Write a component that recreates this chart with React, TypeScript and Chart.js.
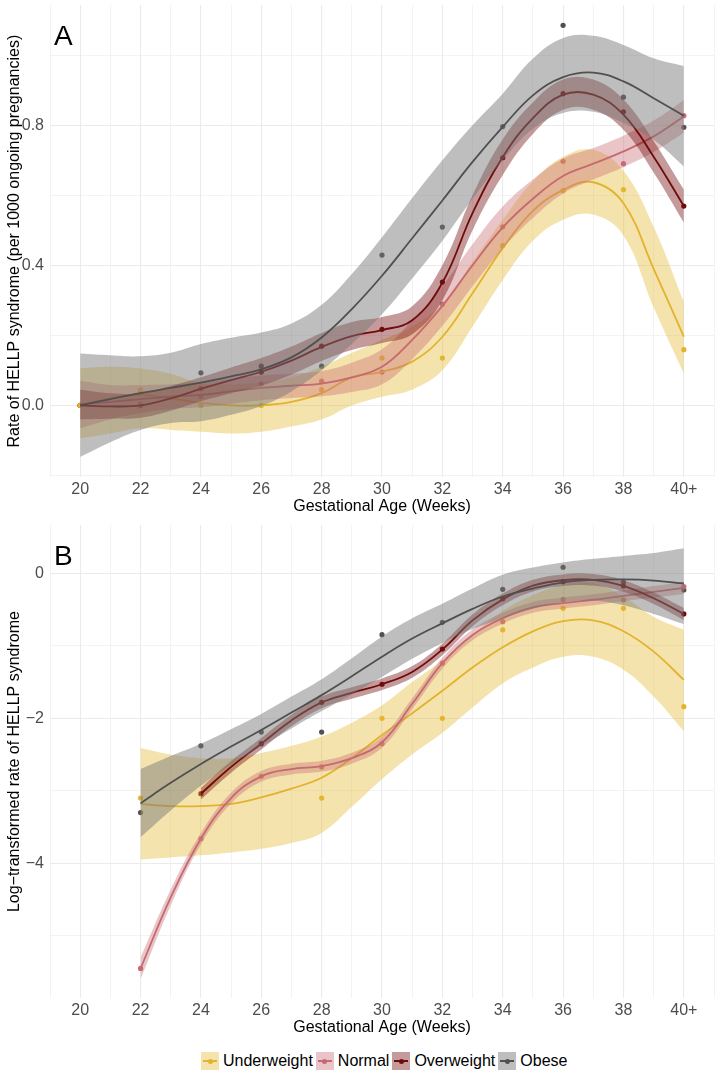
import React, { useEffect, useRef } from 'react';
import { Chart, registerables } from 'chart.js';

Chart.register(...registerables);
Chart.defaults.font.family = '"Liberation Sans", Arial, Helvetica, sans-serif';

// ---------- data ----------
const GROUPS = ['Underweight', 'Normal', 'Overweight', 'Obese'];
const FIT_WEEKS = [20, 21, 22, 23, 24, 25, 26, 27, 28, 29, 30, 31, 32, 33, 34, 35, 36, 37, 38, 39, 40];
const POINT_WEEKS = [20, 22, 24, 26, 28, 30, 32, 34, 36, 38, 40];
const X_TICK_LABELS = ['20', '22', '24', '26', '28', '30', '32', '34', '36', '38', '40+'];
const X_GRID = [19, 20, 21, 22, 23, 24, 25, 26, 27, 28, 29, 30, 31, 32, 33, 34, 35, 36, 37, 38, 39, 40, 41];

// Panel A: rate per 1000
const UW_A_FIT = [0.0, 0.02, 0.03, 0.02, 0.007, 0.0, 0.0, 0.01, 0.035, 0.08, 0.096, 0.125, 0.196, 0.32, 0.449, 0.555, 0.615, 0.637, 0.577, 0.39, 0.196];
const UW_A_HI = [0.106, 0.11, 0.105, 0.09, 0.063, 0.06, 0.065, 0.08, 0.11, 0.15, 0.187, 0.225, 0.29, 0.41, 0.53, 0.64, 0.71, 0.73, 0.67, 0.51, 0.296];
const UW_A_LO = [-0.094, -0.08, -0.066, -0.07, -0.075, -0.08, -0.075, -0.06, -0.04, 0.0, 0.025, 0.045, 0.1, 0.225, 0.358, 0.47, 0.53, 0.545, 0.485, 0.28, 0.091];
const N_A_FIT = [0.003, 0.01, 0.018, 0.025, 0.03, 0.04, 0.05, 0.056, 0.062, 0.08, 0.11, 0.187, 0.284, 0.4, 0.508, 0.59, 0.655, 0.69, 0.725, 0.768, 0.825];
const N_A_HI = [0.07, 0.058, 0.058, 0.06, 0.065, 0.075, 0.085, 0.09, 0.098, 0.122, 0.16, 0.242, 0.341, 0.46, 0.568, 0.645, 0.705, 0.735, 0.77, 0.813, 0.872];
const N_A_LO = [-0.065, -0.04, -0.022, -0.01, -0.005, 0.005, 0.015, 0.021, 0.026, 0.038, 0.06, 0.132, 0.227, 0.34, 0.448, 0.535, 0.605, 0.645, 0.68, 0.723, 0.778];
const OW_A_FIT = [0.0, -0.003, 0.0, 0.02, 0.047, 0.072, 0.096, 0.128, 0.167, 0.198, 0.215, 0.243, 0.35, 0.549, 0.709, 0.82, 0.887, 0.887, 0.83, 0.71, 0.569];
const OW_A_HI = [0.045, 0.035, 0.035, 0.055, 0.08, 0.108, 0.135, 0.168, 0.207, 0.238, 0.252, 0.283, 0.4, 0.6, 0.76, 0.865, 0.93, 0.93, 0.873, 0.755, 0.616];
const OW_A_LO = [-0.04, -0.038, -0.035, -0.015, 0.012, 0.035, 0.056, 0.088, 0.127, 0.158, 0.178, 0.203, 0.3, 0.5, 0.658, 0.775, 0.844, 0.844, 0.787, 0.665, 0.522];
const OB_A_FIT = [0.0, 0.018, 0.035, 0.05, 0.065, 0.083, 0.103, 0.137, 0.194, 0.275, 0.37, 0.477, 0.585, 0.695, 0.795, 0.885, 0.937, 0.95, 0.925, 0.877, 0.827];
const OB_A_HI = [0.148, 0.143, 0.14, 0.15, 0.175, 0.193, 0.208, 0.234, 0.287, 0.375, 0.48, 0.592, 0.7, 0.8, 0.89, 0.99, 1.049, 1.055, 1.029, 0.991, 0.969];
const OB_A_LO = [-0.147, -0.105, -0.07, -0.05, -0.045, -0.027, -0.002, 0.04, 0.1, 0.175, 0.26, 0.362, 0.47, 0.59, 0.7, 0.79, 0.835, 0.838, 0.806, 0.758, 0.682];

const UW_A_PTS = [0, 0.045, 0, 0, 0.045, 0.135, 0.135, 0.456, 0.613, 0.616, 0.159];
const N_A_PTS = [0, 0.004, 0.026, 0.061, 0.069, 0.095, 0.289, 0.51, 0.697, 0.69, 0.827];
const OW_A_PTS = [0, 0, 0.048, 0.095, 0.169, 0.217, 0.352, 0.707, 0.89, 0.838, 0.569];
const OB_A_PTS = [0, 0.037, 0.093, 0.112, 0.112, 0.429, 0.509, 0.796, 1.085, 0.88, 0.794];

// Panel B: log-transformed rate
const UW_B_FIT = [null, null, -3.18, -3.21, -3.21, -3.18, -3.09, -2.97, -2.82, -2.55, -2.23, -1.93, -1.62, -1.3, -1.02, -0.8, -0.66, -0.65, -0.8, -1.08, -1.47];
const UW_B_HI = [null, null, -2.41, -2.5, -2.55, -2.55, -2.48, -2.38, -2.25, -2.06, -1.82, -1.5, -1.2, -0.85, -0.52, -0.3, -0.16, -0.14, -0.32, -0.6, -0.78];
const UW_B_LO = [null, null, -3.95, -3.92, -3.89, -3.85, -3.8, -3.72, -3.58, -3.22, -2.84, -2.5, -2.2, -1.85, -1.52, -1.3, -1.15, -1.15, -1.33, -1.7, -2.18];
const N_B_FIT = [null, null, -5.45, -4.47, -3.66, -3.1, -2.8, -2.7, -2.66, -2.55, -2.33, -1.8, -1.24, -0.85, -0.62, -0.47, -0.41, -0.365, -0.31, -0.255, -0.2];
const N_B_HI = [null, null, -5.3, -4.36, -3.58, -3.025, -2.725, -2.625, -2.585, -2.475, -2.255, -1.725, -1.165, -0.775, -0.545, -0.395, -0.335, -0.29, -0.235, -0.175, -0.115];
const N_B_LO = [null, null, -5.6, -4.58, -3.74, -3.175, -2.875, -2.775, -2.735, -2.625, -2.405, -1.875, -1.315, -0.925, -0.695, -0.545, -0.485, -0.44, -0.385, -0.335, -0.285];
const OW_B_FIT = [null, null, null, null, -3.04, -2.67, -2.35, -2.03, -1.78, -1.65, -1.53, -1.36, -1.05, -0.65, -0.36, -0.17, -0.095, -0.09, -0.175, -0.345, -0.561];
const OW_B_HI = [null, null, null, null, -2.96, -2.59, -2.27, -1.95, -1.7, -1.57, -1.45, -1.28, -0.97, -0.57, -0.28, -0.09, -0.015, -0.01, -0.095, -0.265, -0.48];
const OW_B_LO = [null, null, null, null, -3.12, -2.75, -2.43, -2.11, -1.86, -1.73, -1.61, -1.44, -1.13, -0.73, -0.44, -0.25, -0.175, -0.17, -0.255, -0.425, -0.645];
const OB_B_FIT = [null, null, -3.17, -2.89, -2.63, -2.39, -2.16, -1.92, -1.68, -1.42, -1.15, -0.9, -0.69, -0.49, -0.32, -0.21, -0.125, -0.09, -0.085, -0.1, -0.14];
const OB_B_HI = [null, null, -2.7, -2.52, -2.35, -2.15, -1.94, -1.7, -1.46, -1.17, -0.87, -0.62, -0.42, -0.21, -0.02, 0.08, 0.15, 0.2, 0.24, 0.28, 0.345];
const OB_B_LO = [null, null, -3.64, -3.27, -2.93, -2.64, -2.39, -2.14, -1.9, -1.67, -1.43, -1.18, -0.96, -0.77, -0.62, -0.49, -0.4, -0.38, -0.44, -0.56, -0.7];

const UW_B_PTS = [null, -3.1, null, null, -3.1, -2.0, -2.0, -0.78, -0.483, -0.483, -1.84];
const N_B_PTS = [null, -5.45, -3.66, -2.8, -2.67, -2.35, -1.24, -0.667, -0.36, -0.368, -0.184];
const OW_B_PTS = [null, null, -3.04, -2.35, -1.78, -1.53, -1.044, -0.35, -0.115, -0.175, -0.561];
const OB_B_PTS = [null, -3.3, -2.38, -2.19, -2.19, -0.846, -0.676, -0.221, 0.083, -0.124, -0.23];

// axis ticks
const Y_A_MAJOR = [0, 0.4, 0.8];
const Y_A_LABELS = ['0.0', '0.4', '0.8'];
const Y_A_GRID = [-0.2, 0, 0.2, 0.4, 0.6, 0.8, 1.0];
const Y_B_MAJOR = [-4, -2, 0];
const Y_B_LABELS = ['\u22124', '\u22122', '0'];
const Y_B_GRID = [-5, -4, -3, -2, -1, 0];

// ---------- styles ----------
const LINE_COLORS = ['#E3B22E', '#C46A70', '#700B0B', '#505050'];
const BAND_COLORS = ['rgba(230,185,50,0.4)', 'rgba(200,110,115,0.4)', 'rgba(115,15,15,0.42)', 'rgba(120,120,120,0.48)'];
const FONT = '"Liberation Sans", Arial, Helvetica, sans-serif';

type Panel = {
  letter: string;
  yTitle: string;
  yMin: number;
  yMax: number;
  yGrid: number[];
  yMajor: number[];
  yLabels: string[];
  fits: (number | null)[][];
  his: (number | null)[][];
  los: (number | null)[][];
  pts: (number | null)[][];
};

const PANEL_A: Panel = {
  letter: 'A',
  yTitle: 'Rate of HELLP syndrome (per 1000 ongoing pregnancies)',
  yMin: -0.205,
  yMax: 1.143,
  yGrid: Y_A_GRID,
  yMajor: Y_A_MAJOR,
  yLabels: Y_A_LABELS,
  fits: [UW_A_FIT, N_A_FIT, OW_A_FIT, OB_A_FIT],
  his: [UW_A_HI, N_A_HI, OW_A_HI, OB_A_HI],
  los: [UW_A_LO, N_A_LO, OW_A_LO, OB_A_LO],
  pts: [UW_A_PTS, N_A_PTS, OW_A_PTS, OB_A_PTS],
};

const PANEL_B: Panel = {
  letter: 'B',
  yTitle: 'Log\u2212transformed rate of HELLP syndrome',
  yMin: -5.86,
  yMax: 0.666,
  yGrid: Y_B_GRID,
  yMajor: Y_B_MAJOR,
  yLabels: Y_B_LABELS,
  fits: [UW_B_FIT, N_B_FIT, OW_B_FIT, OB_B_FIT],
  his: [UW_B_HI, N_B_HI, OW_B_HI, OB_B_HI],
  los: [UW_B_LO, N_B_LO, OW_B_LO, OB_B_LO],
  pts: [UW_B_PTS, N_B_PTS, OW_B_PTS, OB_B_PTS],
};

function toXY(weeks: number[], vals: (number | null)[]) {
  const out: { x: number; y: number }[] = [];
  weeks.forEach((w, i) => {
    const v = vals[i];
    if (v !== null && v !== undefined) out.push({ x: w, y: v });
  });
  return out;
}

function isMajor(v: number, majors: number[]) {
  return majors.some((m) => Math.abs(m - v) < 1e-9);
}

function buildConfig(p: Panel): any {
  const datasets: any[] = [];
  const TENSION = 0.4;
  GROUPS.forEach((g, gi) => {
    datasets.push({
      type: 'line',
      label: g + ' points',
      data: toXY(POINT_WEEKS, p.pts[gi]),
      showLine: false,
      pointRadius: 2.6,
      pointBackgroundColor: LINE_COLORS[gi],
      pointBorderWidth: 0,
      borderColor: LINE_COLORS[gi],
      order: 100,
    });
  });
  GROUPS.forEach((g, gi) => {
    const loIndex = datasets.length;
    datasets.push({
      type: 'line',
      label: g + ' lower',
      data: toXY(FIT_WEEKS, p.los[gi]),
      borderColor: 'rgba(0,0,0,0)',
      borderWidth: 1,
      pointRadius: 0,
      fill: false,
      tension: TENSION,
      order: 90 - gi * 10,
    });
    datasets.push({
      type: 'line',
      label: g + ' upper',
      data: toXY(FIT_WEEKS, p.his[gi]),
      borderColor: 'rgba(0,0,0,0)',
      borderWidth: 1,
      pointRadius: 0,
      fill: loIndex,
      backgroundColor: BAND_COLORS[gi],
      tension: TENSION,
      order: 90 - gi * 10,
    });
    datasets.push({
      type: 'line',
      label: g,
      data: toXY(FIT_WEEKS, p.fits[gi]),
      borderColor: LINE_COLORS[gi],
      borderWidth: 1.8,
      pointRadius: 0,
      fill: false,
      tension: TENSION,
      order: 85 - gi * 10,
    });
  });

  const letterPlugin = {
    id: 'panelLetter',
    afterDraw(chart: any) {
      const { ctx, chartArea } = chart;
      ctx.save();
      ctx.font = '28px ' + FONT;
      ctx.fillStyle = '#000';
      ctx.textBaseline = 'alphabetic';
      ctx.textAlign = 'left';
      ctx.fillText(p.letter, chartArea.left + 4, chartArea.top + 40);
      ctx.restore();
    },
  };

  return {
    type: 'line',
    data: { datasets },
    plugins: [letterPlugin],
    options: {
      animation: false,
      responsive: false,
      devicePixelRatio: 1,
      layout: { padding: { top: 5, right: 6, bottom: 0, left: 0 } },
      plugins: { legend: { display: false }, tooltip: { enabled: false } },
      scales: {
        x: {
          type: 'linear',
          min: 19,
          max: 41,
          afterBuildTicks: (s: any) => {
            s.ticks = X_GRID.map((v) => ({ value: v }));
          },
          afterFit: (s: any) => {
            s.height = 38.8;
            s.paddingLeft = 0;
            s.paddingRight = 0;
          },
          ticks: {
            autoSkip: false,
            maxRotation: 0,
            padding: 3,
            color: '#4D4D4D',
            font: { size: 16, family: FONT },
            callback: (v: number) => {
              const i = POINT_WEEKS.indexOf(v);
              return i >= 0 ? X_TICK_LABELS[i] : '';
            },
          },
          grid: {
            color: '#EBEBEB',
            drawTicks: false,
            lineWidth: (c: any) => (c.tick && POINT_WEEKS.indexOf(c.tick.value) >= 0 ? 1.1 : 0.6),
          },
          border: { display: false },
          title: {
            display: true,
            text: 'Gestational Age (Weeks)',
            color: '#000',
            font: { size: 16, family: FONT },
            padding: { top: 0, bottom: 0 },
          },
        },
        y: {
          type: 'linear',
          min: p.yMin,
          max: p.yMax,
          afterBuildTicks: (s: any) => {
            s.ticks = p.yGrid.map((v) => ({ value: v }));
          },
          afterFit: (s: any) => {
            s.width = 50;
            s.paddingTop = 0;
            s.paddingBottom = 0;
          },
          ticks: {
            autoSkip: false,
            padding: 6,
            color: '#4D4D4D',
            font: { size: 16, family: FONT },
            callback: (v: number) => {
              const i = p.yMajor.findIndex((m) => Math.abs(m - v) < 1e-9);
              return i >= 0 ? p.yLabels[i] : '';
            },
          },
          grid: {
            color: '#EBEBEB',
            drawTicks: false,
            lineWidth: (c: any) => (c.tick && isMajor(c.tick.value, p.yMajor) ? 1.1 : 0.6),
          },
          border: { display: false },
          title: {
            display: true,
            text: p.yTitle,
            color: '#000',
            font: { size: 16, family: FONT },
            padding: { top: 5, bottom: 0 },
          },
        },
      },
    },
  };
}

function PanelChart({ panel, top, height }: { panel: Panel; top: number; height: number }) {
  const ref = useRef<HTMLCanvasElement | null>(null);
  useEffect(() => {
    if (!ref.current) return;
    const chart = new Chart(ref.current, buildConfig(panel));
    return () => chart.destroy();
  }, [panel]);
  return (
    <canvas
      ref={ref}
      width={720}
      height={height}
      style={{ position: 'absolute', left: 0, top, width: 720, height }}
    />
  );
}

function LegendKey({ gi }: { gi: number }) {
  return (
    <div
      style={{
        position: 'relative',
        width: 18,
        height: 18,
        background: BAND_COLORS[gi],
        flex: '0 0 auto',
      }}
    >
      <div
        style={{
          position: 'absolute',
          left: 2,
          right: 2,
          top: 8,
          height: 2,
          background: LINE_COLORS[gi],
        }}
      />
      <div
        style={{
          position: 'absolute',
          left: 6.5,
          top: 6.5,
          width: 5,
          height: 5,
          borderRadius: '50%',
          background: LINE_COLORS[gi],
        }}
      />
    </div>
  );
}

export default function App() {
  return (
    <div
      style={{
        position: 'absolute',
        left: 0,
        top: 0,
        width: 720,
        height: 1080,
        background: '#fff',
        overflow: 'hidden',
      }}
    >
      <PanelChart panel={PANEL_A} top={0} height={516} />
      <PanelChart panel={PANEL_B} top={520} height={517} />
      <div
        style={{
          position: 'absolute',
          left: 201,
          top: 1052,
          display: 'flex',
          alignItems: 'center',
          fontFamily: FONT,
          fontSize: 16,
          color: '#000',
          whiteSpace: 'nowrap',
        }}
      >
        {GROUPS.map((g, gi) => (
          <div key={g} style={{ display: 'flex', alignItems: 'center', marginRight: 3 }}>
            <LegendKey gi={gi} />
            <span style={{ marginLeft: 4, lineHeight: '18px' }}>{g}</span>
          </div>
        ))}
      </div>
    </div>
  );
}
